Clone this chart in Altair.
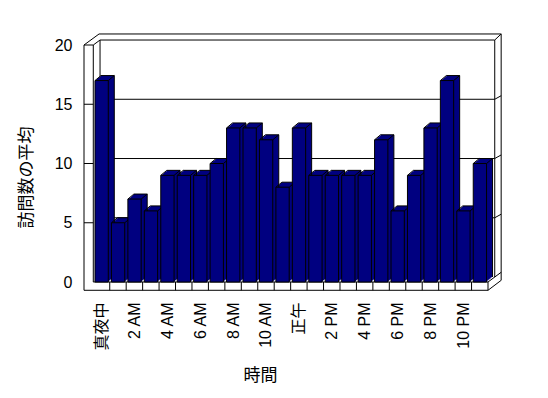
import json
import altair as alt
import pandas as pd

# ---------------- data ----------------
HOURS = ['真夜中', '1 AM', '2 AM', '3 AM', '4 AM', '5 AM', '6 AM', '7 AM',
         '8 AM', '9 AM', '10 AM', '11 AM', '正午', '1 PM', '2 PM', '3 PM',
         '4 PM', '5 PM', '6 PM', '7 PM', '8 PM', '9 PM', '10 PM', '11 PM']
VALUES = [17, 5, 7, 6, 9, 9, 9, 10, 13, 13, 12, 8,
          13, 9, 9, 9, 9, 12, 6, 9, 13, 17, 6, 10]
Y_TICKS = [0, 5, 10, 15, 20]
X_TITLE = '時間'
Y_TITLE = '訪問数の平均'

NAVY = '#000080'
FONT = 'Liberation Sans, Noto Sans CJK JP'

df = pd.DataFrame({'i': list(range(len(HOURS))), 'hour': HOURS, 'value': VALUES})
N = len(HOURS)

# ---------------- 3-D frame geometry (data units) ----------------
L_OUT = -0.565          # outer edge of left wall
L_IN = 0.0              # inner edge of left wall
BX, BY = 0.41, 0.42     # back-wall inset
TOP = Y_TICKS[-1]
TOP_IN = TOP + BY
TOP_OUT = TOP + 0.93
R_IN = N + BX
R_OUT = N + 0.8
FLOOR = -0.7
segs = [
    (L_OUT, TOP, L_OUT, FLOOR),
    (L_OUT, TOP, L_IN, TOP),
    (L_IN, TOP, L_IN, 0),
    (L_OUT, TOP, 0.35, TOP_OUT),
    (L_IN, TOP, BX, TOP_IN),
    (0.35, TOP_OUT, R_OUT, TOP_OUT),
    (BX, TOP_IN, R_IN, TOP_IN),
    (BX, TOP_IN, BX, BY),
    (R_IN, TOP_IN, R_IN, BY),
    (R_IN, TOP_IN, R_OUT, TOP_OUT),
    (R_OUT, TOP_OUT, R_OUT, 0.14),
    (L_OUT, FLOOR, N, FLOOR),
    (L_IN, 0, N, 0),
    (N, 0, N, FLOOR),
    (N, FLOOR, R_OUT, 0.14),
    (N, 0, R_OUT, 0.82),
]
for k in range(1, N):
    segs.append((k, 0, k, FLOOR))
for v in Y_TICKS[1:-1]:
    segs.append((BX, v + BY, R_IN, v + BY))
    segs.append((R_IN, v + BY, R_OUT, v + BY + 0.3))
    segs.append((L_OUT, v, L_IN, v))
frame = pd.DataFrame(segs, columns=['x', 'y', 'x2', 'y2'])

W, H = 404, 237
xscale = alt.Scale(domain=[L_OUT, N], nice=False, zero=False)
yscale = alt.Scale(domain=[0, TOP], nice=False, zero=True)

label_expr = json.dumps(HOURS, ensure_ascii=False) + '[floor(datum.value)]'

x_axis = alt.Axis(values=[i + 0.5 for i in range(0, N, 2)], labelExpr=label_expr,
                  labelAngle=-90, labelPadding=20, ticks=False, tickSize=0,
                  domain=False, grid=False, labelOverlap=False, labelBound=False,
                  labelFontSize=16, title=X_TITLE, titleFontSize=17,
                  titleFontWeight='normal', titlePadding=17, titleX=176)
y_axis = alt.Axis(values=Y_TICKS, ticks=False, tickSize=0, domain=False, grid=False,
                  labelPadding=12, labelFontSize=16, title=Y_TITLE, titleFontSize=17,
                  titleFontWeight='normal', titlePadding=19, titleY=132)


def X(f):
    return alt.X(f'{f}:Q', scale=xscale, axis=x_axis)


def Y(f):
    return alt.Y(f'{f}:Q', scale=yscale, axis=y_axis)


frame_layer = alt.Chart(frame).mark_rule(color='black', strokeWidth=1).encode(
    x=X('x'), x2='x2:Q', y=Y('y'), y2='y2:Q',
)

base = alt.Chart(df).transform_calculate(
    xs='datum.i + 0.103', xe='datum.i + 0.912', zero='0'
)
DXP, DYP = 6, 5
enc = dict(x=X('xs'), x2='xe:Q', y=Y('value'), y2='zero:Q')

fills = []
for k in range(1, DXP + 1):
    fills.append(base.mark_rect(color=NAVY, xOffset=k, x2Offset=k,
                                yOffset=-k * DYP / DXP, y2Offset=-k * DYP / DXP).encode(**enc))


def rule(x, x2, y, y2, **off):
    return base.mark_rule(color='black', strokeWidth=1, **off).encode(
        x=X(x), x2=f'{x2}:Q', y=Y(y), y2=f'{y2}:Q')


back = dict(xOffset=DXP, x2Offset=DXP, yOffset=-DYP, y2Offset=-DYP)
diag = dict(x2Offset=DXP, y2Offset=-DYP)
edges = [
    rule('xs', 'xe', 'value', 'value', **back),
    rule('xe', 'xe', 'value', 'zero', **back),
    rule('xs', 'xs', 'value', 'value', **diag),
    rule('xe', 'xe', 'value', 'value', **diag),
]
fronts = base.mark_rect(color=NAVY, stroke='black', strokeWidth=1).encode(**enc)

chart = alt.layer(frame_layer, *fills, *edges, fronts).properties(
    width=W, height=H,
    autosize=alt.AutoSizeParams(type='none'),
    padding={'left': 76, 'top': 37, 'right': 40, 'bottom': 105},
).configure_view(strokeWidth=0).configure_axis(
    labelFont=FONT, titleFont=FONT, labelColor='black', titleColor='black'
)

chart.save('out.html', embed_options={'renderer': 'svg', 'actions': False})
